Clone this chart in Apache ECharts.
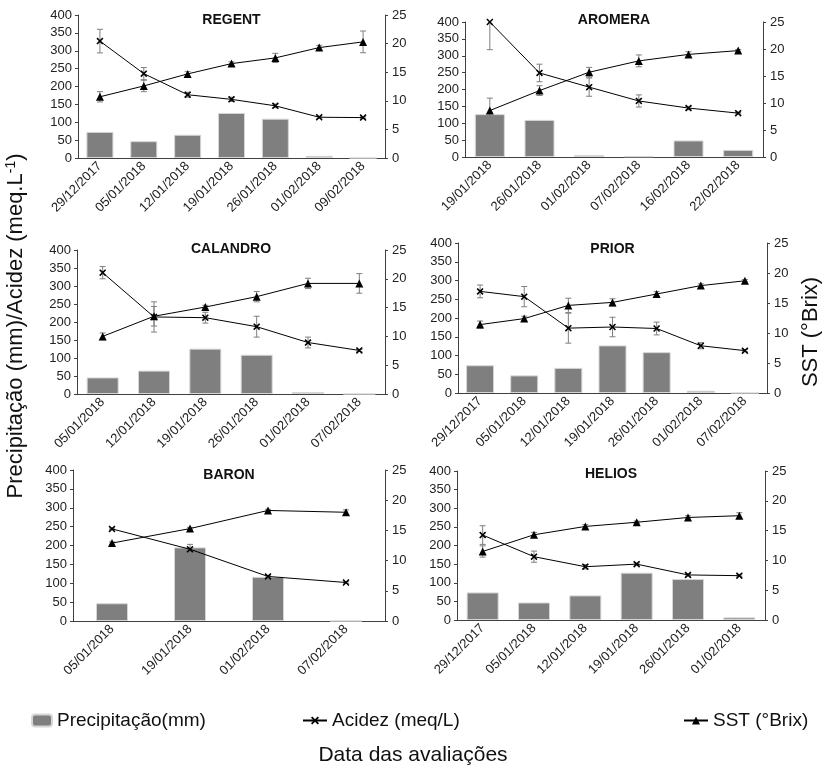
<!DOCTYPE html>
<html><head><meta charset="utf-8">
<script src="https://cdn.jsdelivr.net/npm/echarts@6/dist/echarts.min.js"></script>
<style>html,body{margin:0;padding:0;background:#fff}#c{width:826px;height:769px}</style>
</head><body><div id="c"></div>
<script>
// ---------- DATA ----------
const regentDates = ['29/12/2017','05/01/2018','12/01/2018','19/01/2018','26/01/2018','01/02/2018','09/02/2018'];
const regentPrecip = [73, 47, 65, 126, 110, 6, 0];
const regentAcidez = [327, 236, 177, 164, 146, 114, 113];
const regentAcidezErr = [33, 17, 7, 6, 5, 3, 2];
const regentSST = [10.7, 12.6, 14.7, 16.5, 17.5, 19.3, 20.3];
const regentSSTErr = [0.9, 1.0, 0.4, 0.3, 0.8, 0.4, 1.9];

const aromeraDates = ['19/01/2018','26/01/2018','01/02/2018','07/02/2018','16/02/2018','22/02/2018'];
const aromeraPrecip = [127, 110, 6, 2, 49, 21];
const aromeraAcidez = [400, 249, 207, 166, 145, 130];
const aromeraAcidezErr = [82, 26, 27, 18, 5, 2];
const aromeraSST = [8.6, 12.3, 15.7, 17.8, 19.0, 19.7];
const aromeraSSTErr = [2.3, 0.9, 0.9, 1.1, 0.5, 0.2];

const calandroDates = ['05/01/2018','12/01/2018','19/01/2018','26/01/2018','01/02/2018','07/02/2018'];
const calandroPrecip = [46, 65, 126, 109, 5, 0];
const calandroAcidez = [337, 214, 212, 187, 143, 121];
const calandroAcidezErr = [17, 42, 15, 29, 15, 3];
const calandroSST = [10.0, 13.5, 15.1, 16.9, 19.2, 19.2];
const calandroSSTErr = [0.6, 1.7, 0.3, 0.9, 0.9, 1.7];

const priorDates = ['29/12/2017','05/01/2018','12/01/2018','19/01/2018','26/01/2018','01/02/2018','07/02/2018'];
const priorPrecip = [74, 47, 67, 127, 109, 6, 0];
const priorAcidez = [271, 257, 173, 176, 172, 126, 113];
const priorAcidezErr = [17, 27, 40, 26, 17, 8, 3];
const priorSST = [11.4, 12.4, 14.6, 15.1, 16.5, 17.9, 18.7];
const priorSSTErr = [0.6, 0.4, 1.2, 0.6, 0.4, 0.3, 0.2];

const baronDates = ['05/01/2018','19/01/2018','01/02/2018','07/02/2018'];
const baronPrecip = [47, 195, 117, 0];
const baronAcidez = [244, 190, 118, 102];
const baronAcidezErr = [2, 13, 2, 2];
const baronSST = [12.9, 15.3, 18.3, 18.0];
const baronSSTErr = [0.2, 0.2, 0.2, 0.4];

const heliosDates = ['29/12/2017','05/01/2018','12/01/2018','19/01/2018','26/01/2018','01/02/2018'];
const heliosPrecip = [74, 47, 66, 127, 110, 7];
const heliosAcidez = [228, 170, 143, 150, 121, 119];
const heliosAcidezErr = [25, 15, 6, 3, 3, 2];
const heliosSST = [11.5, 14.3, 15.7, 16.4, 17.2, 17.5];
const heliosSSTErr = [0.95, 0.4, 0.3, 0.2, 0.3, 0.5];

const leftTicks = {min: 0, max: 400, interval: 50};
const rightTicks = {min: 0, max: 25, interval: 5};

const panels = [
  {name:'REGENT', dates:regentDates, precip:regentPrecip, ac:regentAcidez, acE:regentAcidezErr, sst:regentSST, sstE:regentSSTErr},
  {name:'AROMERA', dates:aromeraDates, precip:aromeraPrecip, ac:aromeraAcidez, acE:aromeraAcidezErr, sst:aromeraSST, sstE:aromeraSSTErr},
  {name:'CALANDRO', dates:calandroDates, precip:calandroPrecip, ac:calandroAcidez, acE:calandroAcidezErr, sst:calandroSST, sstE:calandroSSTErr},
  {name:'PRIOR', dates:priorDates, precip:priorPrecip, ac:priorAcidez, acE:priorAcidezErr, sst:priorSST, sstE:priorSSTErr},
  {name:'BARON', dates:baronDates, precip:baronPrecip, ac:baronAcidez, acE:baronAcidezErr, sst:baronSST, sstE:baronSSTErr},
  {name:'HELIOS', dates:heliosDates, precip:heliosPrecip, ac:heliosAcidez, acE:heliosAcidezErr, sst:heliosSST, sstE:heliosSSTErr}
];

// ---------- LAYOUT ----------
const layout = [
  {left:78, top:15, width:307, height:143, barW:27, tTop:13},
  {left:465, top:22, width:298, height:135, barW:30, tTop:13},
  {left:77, top:250, width:308, height:144, barW:32, tTop:242},
  {left:458, top:243, width:309, height:150, barW:28, tTop:242},
  {left:73, top:470, width:312, height:151, barW:32, tTop:468},
  {left:457, top:471, width:308, height:149, barW:32, tTop:467}
];

const FONT = '"Liberation Sans", Arial, sans-serif';
const AXC = '#404040';
const XSYM = 'path://M0,1.6L1.6,0L5,3.4L8.4,0L10,1.6L6.6,5L10,8.4L8.4,10L5,6.6L1.6,10L0,8.4L3.4,5Z';

function errRender(maxV){
  return function(params, api){
    const x = api.value(0), v = api.value(1), e = api.value(2);
    const hiV = Math.min(v + e, maxV);
    const hi = api.coord([x, hiV]);
    const lo = api.coord([x, v - e]);
    const cw = 3;
    const st = {stroke:'#7f7f7f', lineWidth:1};
    const ch = [{type:'line', shape:{x1:hi[0], y1:hi[1], x2:lo[0], y2:lo[1]}, style:st},
                {type:'line', shape:{x1:lo[0]-cw, y1:lo[1], x2:lo[0]+cw, y2:lo[1]}, style:st}];
    if (v + e <= maxV) ch.push({type:'line', shape:{x1:hi[0]-cw, y1:hi[1], x2:hi[0]+cw, y2:hi[1]}, style:st});
    return {type:'group', children:ch};
  };
}

const grid = [], xAxis = [], yAxis = [], series = [], graphic = [];
panels.forEach((p, i) => {
  const L = layout[i];
  grid.push({left:L.left, top:L.top, width:L.width, height:L.height});
  xAxis.push({type:'category', gridIndex:i, data:p.dates, boundaryGap:true,
    axisLine:{lineStyle:{color:AXC, width:1}}, axisTick:{show:false},
    axisLabel:{rotate:45, fontSize:13, color:'#222', fontFamily:FONT, interval:0, margin:6}});
  yAxis.push({type:'value', gridIndex:i, position:'left', min:leftTicks.min, max:leftTicks.max, interval:leftTicks.interval,
    splitLine:{show:false}, axisLine:{show:true, lineStyle:{color:AXC}}, axisTick:{show:true, length:3, lineStyle:{color:AXC}},
    axisLabel:{fontSize:13, color:'#222', fontFamily:FONT, margin:6}});
  yAxis.push({type:'value', gridIndex:i, position:'right', min:rightTicks.min, max:rightTicks.max, interval:rightTicks.interval,
    splitLine:{show:false}, axisLine:{show:true, lineStyle:{color:AXC}}, axisTick:{show:true, length:3, lineStyle:{color:AXC}},
    axisLabel:{fontSize:13, color:'#222', fontFamily:FONT, margin:7}});
  const yl = i*2, yr = i*2+1;
  series.push({type:'bar', name:'Precipitação(mm)', xAxisIndex:i, yAxisIndex:yl, data:p.precip, barWidth:L.barW,
    itemStyle:{color:'#7f7f7f', borderColor:'#d6d6d6', borderWidth:1}, z:1, silent:true});
  series.push({type:'custom', xAxisIndex:i, yAxisIndex:yl, renderItem:errRender(leftTicks.max),
    data:p.ac.map((v,k)=>[k, v, p.acE[k]]), encode:{x:0, y:1}, z:3, silent:true});
  series.push({type:'custom', xAxisIndex:i, yAxisIndex:yr, renderItem:errRender(rightTicks.max),
    data:p.sst.map((v,k)=>[k, v, p.sstE[k]]), encode:{x:0, y:1}, z:3, silent:true});
  series.push({type:'line', name:'Acidez (meq/L)', xAxisIndex:i, yAxisIndex:yl, data:p.ac,
    symbol:XSYM, symbolSize:7, showAllSymbol:true, lineStyle:{color:'#000', width:1}, itemStyle:{color:'#000'}, z:5, silent:true});
  series.push({type:'line', name:'SST (°Brix)', xAxisIndex:i, yAxisIndex:yr, data:p.sst,
    symbol:'triangle', symbolSize:8, showAllSymbol:true, lineStyle:{color:'#000', width:1}, itemStyle:{color:'#000'}, z:5, silent:true});
  graphic.push({type:'text', x:L.left + L.width/2, y:L.tTop, style:{text:p.name, font:'bold 14px ' + FONT, fill:'#111', textAlign:'center', textVerticalAlign:'top'}});
});

graphic.push({type:'text', x:16, y:326, rotation:Math.PI/2,
  style:{text:'{a|Precipitação (mm)/Acidez (meq.L}{s|-1}{a|)}', textAlign:'center', textVerticalAlign:'middle',
    rich:{a:{font:'22px ' + FONT, fill:'#111'}, s:{font:'14px ' + FONT, fill:'#111', verticalAlign:'top', padding:[0,0,10,0]}}}});
graphic.push({type:'text', x:811, y:332, rotation:Math.PI/2,
  style:{text:'SST (°Brix)', font:'22px ' + FONT, fill:'#111', textAlign:'center', textVerticalAlign:'middle'}});
graphic.push({type:'text', x:413, y:755,
  style:{text:'Data das avaliações', font:'21px ' + FONT, fill:'#111', textAlign:'center', textVerticalAlign:'middle'}});

const legTxt = {fontSize:19, color:'#111', fontFamily:FONT};
const legend = [
  {data:['Precipitação(mm)'], left:26, top:706, itemWidth:20, itemHeight:12, textStyle:legTxt, selectedMode:false},
  {data:['Acidez (meq/L)'], left:297, top:706, itemWidth:24, itemHeight:10, textStyle:legTxt, selectedMode:false},
  {data:['SST (°Brix)'], left:678, top:706, itemWidth:24, itemHeight:10, textStyle:legTxt, selectedMode:false}
];

const chart = echarts.init(document.getElementById('c'));
chart.setOption({animation:false, backgroundColor:'#fff', grid, xAxis, yAxis, series, graphic, legend});
</script></body></html>
